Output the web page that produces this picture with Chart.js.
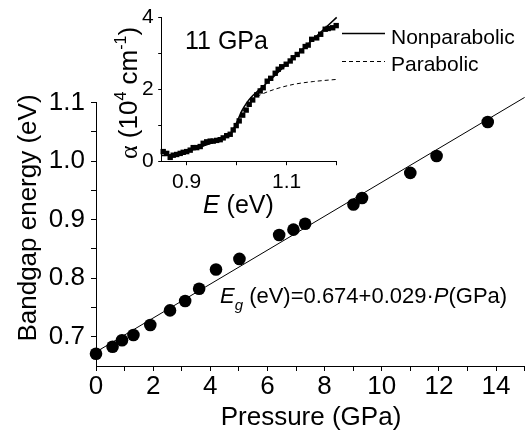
<!DOCTYPE html>
<html>
<head>
<meta charset="utf-8">
<script src="https://cdn.jsdelivr.net/npm/chart.js@4.4.0/dist/chart.umd.min.js"></script>
<style>
  body { margin: 0; background: #fff; }
  #wrap { position: relative; width: 526px; height: 437px; }
  #main { position: absolute; left: 0; top: 0; }
  #inset { position: absolute; left: 100px; top: 0; }
</style>
</head>
<body>
<div id="wrap">
  <canvas id="main" width="526" height="437"></canvas>
  <canvas id="inset" width="426" height="222"></canvas>
</div>
<script>
// main plot: bandgap vs pressure
const pressure = [0, 0.58, 0.91, 1.31, 1.90, 2.59, 3.12, 3.61, 4.20, 5.02, 6.41, 6.91, 7.32, 9.01, 9.31, 11.0, 11.92, 13.71];
const bandgap = [0.671, 0.683, 0.694, 0.703, 0.720, 0.745, 0.761, 0.782, 0.815, 0.833, 0.874, 0.883, 0.893, 0.926, 0.937, 0.980, 1.009, 1.067];
// linear fit Eg = 0.674 + 0.029 P, ends of the drawn line
const fitP = [0, 15];
const fitE = [0.674, 1.109];
const pTicks = [0, 1, 2, 3, 4, 5, 6, 7, 8, 9, 10, 11, 12, 13, 14, 15];
const pLabels = ['0', '', '2', '', '4', '', '6', '', '8', '', '10', '', '12', '', '14', ''];
const eTicks = [0.7, 0.75, 0.8, 0.85, 0.9, 0.95, 1.0, 1.05, 1.1];
const eLabels = ['0.7', '', '0.8', '', '0.9', '', '1.0', '', '1.1'];

// inset: absorption at 11 GPa
const photonE = [0.853, 0.860, 0.867, 0.873, 0.880, 0.887, 0.893, 0.900, 0.907, 0.913,
                 0.920, 0.927, 0.933, 0.940, 0.947, 0.953, 0.960, 0.967, 0.973, 0.980,
                 0.987, 0.993, 0.999, 1.005, 1.012, 1.019, 1.025, 1.032, 1.040, 1.047,
                 1.053, 1.061, 1.068, 1.077, 1.083, 1.090, 1.099, 1.107, 1.113, 1.121,
                 1.130, 1.137, 1.143, 1.150, 1.160, 1.168, 1.177, 1.183, 1.192, 1.199];
const alpha = [0.28, 0.23, 0.12, 0.18, 0.20, 0.23, 0.26, 0.28, 0.32, 0.39,
               0.39, 0.42, 0.51, 0.55, 0.57, 0.57, 0.59, 0.61, 0.66, 0.72,
               0.76, 0.88, 1.00, 1.13, 1.29, 1.43, 1.59, 1.71, 1.85, 1.96,
               2.05, 2.23, 2.31, 2.45, 2.56, 2.63, 2.70, 2.79, 2.88, 2.97,
               3.07, 3.19, 3.23, 3.39, 3.43, 3.53, 3.67, 3.69, 3.71, 3.77];
const nonparE = [0.85, 0.87, 0.89, 0.91, 0.93, 0.95, 0.97, 0.98, 0.99, 1.00, 1.01, 1.02, 1.03, 1.04, 1.05, 1.07, 1.09, 1.11, 1.13, 1.15, 1.17, 1.19, 1.20];
const nonparA = [0.17, 0.19, 0.24, 0.32, 0.42, 0.52, 0.64, 0.72, 0.82, 1.08, 1.40, 1.63, 1.80, 1.93, 2.05, 2.31, 2.57, 2.83, 3.09, 3.35, 3.61, 3.87, 4.00];
const parE = [0.85, 0.87, 0.89, 0.91, 0.93, 0.95, 0.97, 0.98, 0.99, 1.00, 1.01, 1.02, 1.03, 1.047, 1.077, 1.113, 1.153, 1.20];
const parA = [0.17, 0.19, 0.24, 0.32, 0.42, 0.52, 0.64, 0.72, 0.84, 1.08, 1.34, 1.56, 1.72, 1.85, 2.01, 2.14, 2.22, 2.28];
const insetXTicks = [0.9, 1.0, 1.1, 1.2];
const insetXLabels = ['0.9', '', '1.1', ''];
const insetYTicks = [0, 1, 2, 3, 4];
const insetYLabels = ['0', '', '2', '', '4'];

const SANS = '"Liberation Sans", Arial, sans-serif';
Chart.defaults.font.family = SANS;
Chart.defaults.color = '#000';

function pts(xs, ys) {
    return xs.map((x, i) => ({ x: x, y: ys[i] }));
}

// axis with fixed size so the plot box lands where the reference has it
function axis(min, max, ticks, labels, size, o) {
    return {
        type: 'linear', min: min, max: max,
        afterBuildTicks: s => { s.ticks = ticks.map(v => ({ value: v })); },
        afterFit: s => {
            if (s.isHorizontal()) s.height = size; else s.width = size;
            s.paddingLeft = s.paddingRight = s.paddingTop = s.paddingBottom = 0;
        },
        grid: { drawOnChartArea: false, drawTicks: true, tickLength: o.tick, tickColor: '#000', tickWidth: 1 },
        border: { display: true, color: '#000', width: 1 },
        ticks: {
            callback: (v, i) => labels[i],
            font: { size: o.font }, color: '#000', padding: o.pad,
            autoSkip: false, maxRotation: 0, minRotation: 0
        }
    };
}

// draw pieces of text one after another: [text, font, dy]
function runs(ctx, x, y, parts) {
    ctx.textAlign = 'left';
    parts.forEach(p => {
        ctx.font = p[1];
        ctx.fillText(p[0], x, y + (p[2] || 0));
        x += ctx.measureText(p[0]).width;
    });
}
function runsWidth(ctx, parts) {
    let w = 0;
    parts.forEach(p => { ctx.font = p[1]; w += ctx.measureText(p[0]).width; });
    return w;
}

const mainText = {
    id: 'mainText',
    afterDraw(chart) {
        const ctx = chart.ctx;
        ctx.save();
        ctx.fillStyle = '#000';
        ctx.textBaseline = 'alphabetic';
        ctx.font = '26px ' + SANS;
        ctx.textAlign = 'center';
        ctx.fillText('Pressure (GPa)', 311, 425);
        ctx.save();
        ctx.translate(36, 218);
        ctx.rotate(-Math.PI / 2);
        ctx.fillText('Bandgap energy (eV)', 0, 0);
        ctx.restore();
        runs(ctx, 220, 303, [
            ['E', 'italic 22px ' + SANS],
            ['g', 'italic 15px ' + SANS, 7],
            [' (eV)=0.674+0.029\u00b7', '22px ' + SANS],
            ['P', 'italic 22px ' + SANS],
            ['(GPa)', '22px ' + SANS]
        ]);
        ctx.restore();
    }
};

const insetText = {
    id: 'insetText',
    afterDraw(chart) {
        const ctx = chart.ctx;
        ctx.save();
        ctx.fillStyle = '#000';
        ctx.strokeStyle = '#000';
        ctx.textBaseline = 'alphabetic';
        // label inside the inset
        runs(ctx, 85, 49, [['11 GPa', '25px ' + SANS]]);
        // legend
        ctx.lineWidth = 1.5;
        ctx.beginPath(); ctx.moveTo(242, 33.5); ctx.lineTo(285, 33.5); ctx.stroke();
        ctx.lineWidth = 1;
        ctx.setLineDash([4, 3]);
        ctx.beginPath(); ctx.moveTo(242, 61.5); ctx.lineTo(285, 61.5); ctx.stroke();
        ctx.setLineDash([]);
        runs(ctx, 291, 44, [['Nonparabolic', '21px ' + SANS]]);
        runs(ctx, 291, 71, [['Parabolic', '21px ' + SANS]]);
        // x title
        runs(ctx, 103, 213, [['E', 'italic 25px ' + SANS], [' (eV)', '25px ' + SANS]]);
        // y title, rotated
        const yParts = [
            ['\u03b1', '26px "Liberation Serif", serif'],
            [' (10', '26px ' + SANS],
            ['4', '16px ' + SANS, -11],
            [' cm', '26px ' + SANS],
            ['-1', '16px ' + SANS, -11],
            [')', '26px ' + SANS]
        ];
        ctx.translate(37, 93);
        ctx.rotate(-Math.PI / 2);
        runs(ctx, -runsWidth(ctx, yParts) / 2, 0, yParts);
        ctx.restore();
    }
};

new Chart(document.getElementById('main'), {
    type: 'scatter',
    data: {
        datasets: [{
            data: pts(pressure, bandgap),
            pointRadius: 6.3,
            pointBackgroundColor: '#000',
            pointBorderWidth: 0,
            showLine: false,
            clip: false
        }, {
            data: pts(fitP, fitE),
            showLine: true,
            borderColor: '#000',
            borderWidth: 1,
            pointRadius: 0,
            clip: false
        }]
    },
    options: {
        responsive: false,
        animation: false,
        devicePixelRatio: 1,
        events: [],
        layout: { autoPadding: false, padding: { left: 0, top: 102.7, right: 1.4, bottom: 0 } },
        plugins: { legend: { display: false }, tooltip: { enabled: false } },
        scales: {
            x: axis(0, 15, pTicks, pLabels, 71, { tick: 5, font: 26, pad: 0 }),
            y: axis(0.65, 1.1, eTicks, eLabels, 96, { tick: 5, font: 26, pad: 6 })
        }
    },
    plugins: [mainText]
});

new Chart(document.getElementById('inset'), {
    type: 'scatter',
    data: {
        datasets: [{
            data: pts(photonE, alpha),
            pointStyle: 'rect',
            pointRadius: 3.8,
            pointBackgroundColor: '#000',
            pointBorderWidth: 0,
            showLine: false,
            clip: false
        }, {
            data: pts(nonparE, nonparA),
            showLine: true,
            borderColor: '#000',
            borderWidth: 1.6,
            pointRadius: 0,
            cubicInterpolationMode: 'monotone',
            clip: false
        }, {
            data: pts(parE, parA),
            showLine: true,
            borderColor: '#000',
            borderWidth: 1,
            borderDash: [4, 3],
            pointRadius: 0,
            cubicInterpolationMode: 'monotone',
            clip: false
        }]
    },
    options: {
        responsive: false,
        animation: false,
        devicePixelRatio: 1,
        events: [],
        layout: { autoPadding: false, padding: { left: 0, top: 17.3, right: 189.3, bottom: 0 } },
        plugins: { legend: { display: false }, tooltip: { enabled: false } },
        scales: {
            x: axis(0.85, 1.2, insetXTicks, insetXLabels, 60.3, { tick: 3.5, font: 21, pad: 4 }),
            y: axis(0, 4, insetYTicks, insetYLabels, 61.7, { tick: 3.5, font: 21, pad: 4.5 })
        }
    },
    plugins: [insetText]
});
</script>
</body>
</html>
